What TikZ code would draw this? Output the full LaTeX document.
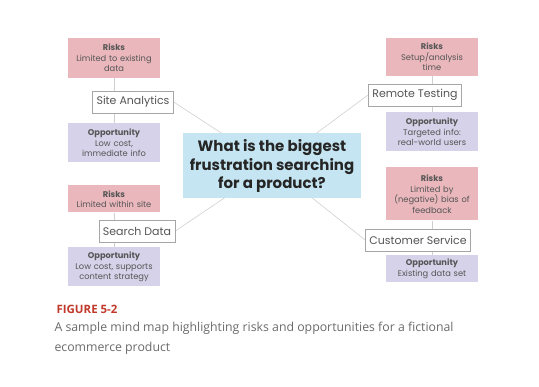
\documentclass[tikz,border=0pt]{standalone}
\usepackage{fontspec}
\setmainfont{Poppins}
\newfontfamily\capfont{Open Sans}
\usetikzlibrary{backgrounds}

\definecolor{riskpink}{HTML}{E9B7BC}
\definecolor{opplilac}{HTML}{D6D2E9}
\definecolor{hubblue}{HTML}{C4E5F1}
\definecolor{txtgray}{HTML}{555555}
\definecolor{linkgray}{HTML}{CFCFCF}
\definecolor{figred}{HTML}{C0392B}
\definecolor{capgray}{HTML}{6A6A6A}

\tikzset{
  risk/.style={fill=riskpink, text=txtgray, align=center, font=\fontsize{8.3}{10.5}\selectfont,
    text width=86pt, minimum width=92pt, inner sep=3pt},
  opp/.style={risk, fill=opplilac},
  topic/.style={draw=gray!70, fill=white, text=txtgray, font=\fontsize{11}{13}\selectfont,
    inner sep=4pt, minimum height=22pt},
  hub/.style={fill=hubblue, align=center, font=\fontsize{15}{18.5}\selectfont\bfseries,
    text=black!85, minimum width=178pt, minimum height=65pt},
  link/.style={draw=linkgray, line width=0.6pt}
}

\begin{document}
\begin{tikzpicture}[x=1pt, y=-1pt]
  \useasboundingbox (0,0) rectangle (539,387);

  % centre question
  \node[hub] (q) at (272,166) {What is the biggest\\frustration searching\\for a product?};

  % site analytics
  \node[risk, minimum height=40pt] (sarisk) at (114,58) {\textbf{Risks}\\Limited to existing\\data};
  \node[topic] (sa) at (133,102) {Site Analytics};
  \node[opp, minimum height=39pt] (saopp) at (114,143) {\textbf{Opportunity}\\Low cost,\\immediate info};

  % remote testing
  \node[risk, minimum height=38pt] (rtrisk) at (432,57) {\textbf{Risks}\\Setup/analysis\\time};
  \node[topic] (rt) at (415,95) {Remote Testing};
  \node[opp, minimum height=39pt] (rtopp) at (432,132) {\textbf{Opportunity}\\Targeted info:\\real-world users};

  % search data
  \node[risk, minimum height=27pt] (sdrisk) at (114,199) {\textbf{Risks}\\Limited within site};
  \node[topic] (sd) at (137,231) {Search Data};
  \node[opp, minimum height=39pt] (sdopp) at (114,267) {\textbf{Opportunity}\\Low cost, supports\\content strategy};

  % customer service
  \node[risk, minimum height=53pt] (csrisk) at (432,194) {\textbf{Risks}\\Limited by\\(negative) bias of\\feedback};
  \node[topic] (cs) at (418,240) {Customer Service};
  \node[opp, minimum height=27pt] (csopp) at (432,269) {\textbf{Opportunity}\\Existing data set};

  \begin{scope}[on background layer]
    \foreach \r/\o in {sarisk/saopp, rtrisk/rtopp, sdrisk/sdopp, csrisk/csopp}
      \draw[link] (\r.south) -- (\o.north);
    \draw[link] (sa.east) -- (q.center);
    \draw[link] (rt.west) -- (q.center);
    \draw[link] (sd.east) -- (q.center);
    \draw[link] (cs.west) -- (q.center);
  \end{scope}

  % caption
  \node[anchor=west, text=figred, font=\capfont\fontsize{11.5}{13}\selectfont\bfseries] (fig) at (53,309) {FIGURE 5-2};
  \node[anchor=north west, text=capgray, align=left, font=\capfont\fontsize{12.3}{20}\selectfont] (cap) at (51,319)
    {A sample mind map highlighting risks and opportunities for a fictional\\ecommerce product};
\end{tikzpicture}
\end{document}
